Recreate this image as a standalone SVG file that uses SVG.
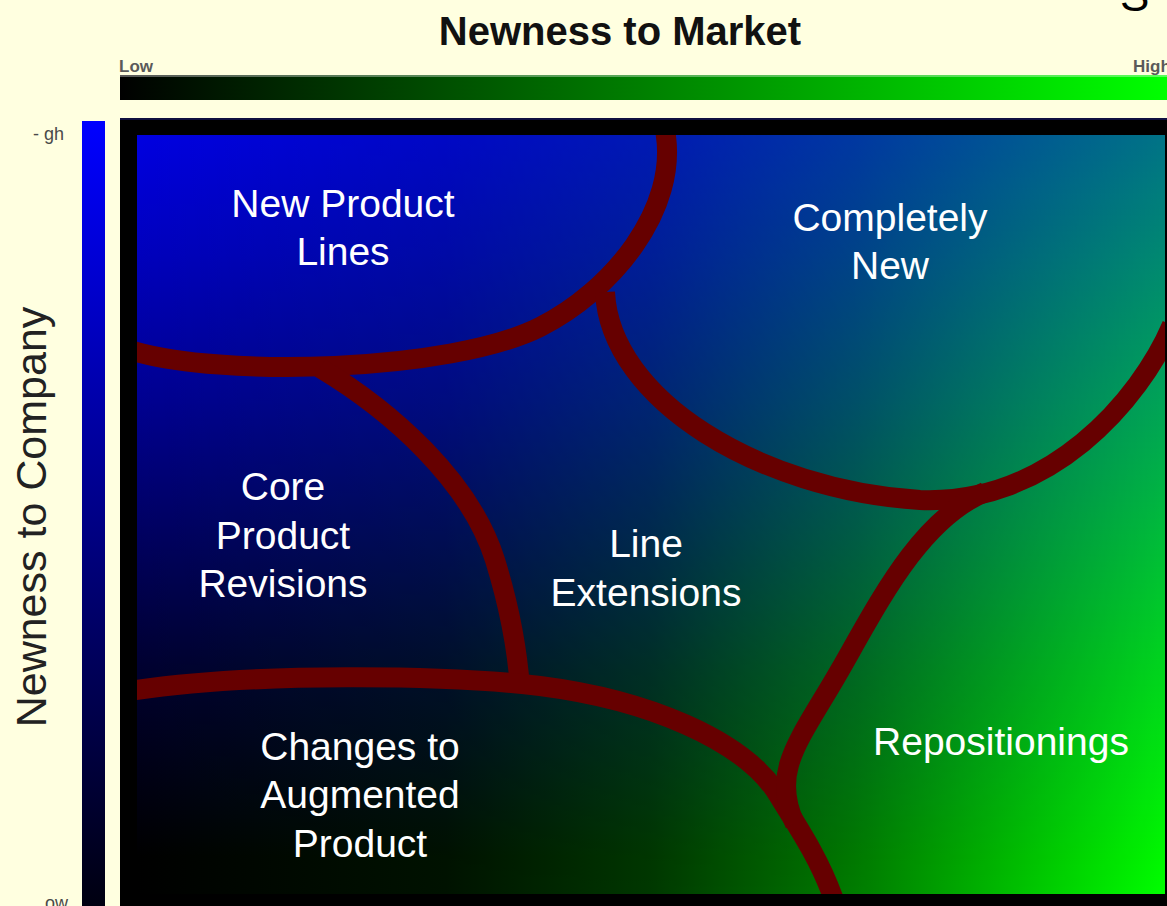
<svg xmlns="http://www.w3.org/2000/svg" width="1167" height="906" viewBox="0 0 1167 906">
<style>
.lbl{font-family:"Liberation Sans",Arial,sans-serif;font-size:39px;fill:#ffffff;text-anchor:middle}
.axis{font-family:"Liberation Sans",Arial,sans-serif;fill:#5a5a5a;font-weight:bold}
.axisn{font-family:"Liberation Sans",Arial,sans-serif;fill:#4a4a4a}
.curve{fill:none;stroke:#660000;stroke-width:20;stroke-linecap:butt;stroke-linejoin:round}
</style>
<defs>
<linearGradient id="topbar" x1="0" y1="0" x2="1" y2="0">
<stop offset="0" stop-color="#000000"/><stop offset="1" stop-color="#00ff00"/>
</linearGradient>
<linearGradient id="leftbar" x1="0" y1="0" x2="0" y2="1">
<stop offset="0" stop-color="#0000ff"/><stop offset="1" stop-color="#000010"/>
</linearGradient>
<linearGradient id="blueV" x1="0" y1="0" x2="0" y2="1">
<stop offset="0" stop-color="#0000e0"/><stop offset="0.35" stop-color="#000090"/><stop offset="0.7" stop-color="#000030"/><stop offset="0.95" stop-color="#000000"/>
</linearGradient>
<linearGradient id="darkH" x1="0" y1="0" x2="1" y2="0">
<stop offset="0" stop-color="#000000" stop-opacity="0"/><stop offset="1" stop-color="#000000" stop-opacity="0.4"/>
</linearGradient>
<linearGradient id="greenH" x1="0" y1="0" x2="1" y2="0">
<stop offset="0" stop-color="#000000"/><stop offset="0.3" stop-color="#001200"/><stop offset="0.5" stop-color="#003800"/><stop offset="0.7" stop-color="#007c00"/><stop offset="1" stop-color="#00ff00"/>
</linearGradient>
<linearGradient id="vmaskG" x1="0" y1="0" x2="0" y2="1">
<stop offset="0" stop-color="#ffffff" stop-opacity="0.45"/><stop offset="1" stop-color="#ffffff" stop-opacity="1"/>
</linearGradient>
<mask id="vmask" maskUnits="userSpaceOnUse" x="137" y="135" width="1028" height="759">
<rect x="137" y="135" width="1028" height="759" fill="url(#vmaskG)"/>
</mask>
<clipPath id="inner"><rect x="137" y="135" width="1028" height="759"/></clipPath>
</defs>

<rect width="1167" height="906" fill="#ffffe0"/>

<g id="title">
<text x="620" y="45" text-anchor="middle" font-family="'Liberation Sans',Arial,sans-serif" font-weight="bold" font-size="40" fill="#111111">Newness to Market</text>
<text x="1120" y="11" font-family="'Liberation Sans',Arial,sans-serif" font-size="44" fill="#000000">S</text>
</g>

<g id="market-axis">
<rect x="120" y="75" width="1047" height="25" fill="url(#topbar)"/>
<rect x="120" y="75" width="1047" height="2" fill="#ffffff" opacity="0.35"/>
<text class="axis" x="119" y="72" font-size="17">Low</text>
<text class="axis" x="1133" y="72" font-size="17">High</text>
</g>

<g id="company-axis">
<rect x="82" y="121" width="23" height="785" fill="url(#leftbar)"/>
<text class="axisn" x="33" y="140" font-size="18">- gh</text>
<text class="axisn" x="45" y="909" font-size="18">ow</text>
<text x="35" y="517" transform="rotate(-90 35 517)" text-anchor="middle" dominant-baseline="middle" font-family="'Liberation Sans',Arial,sans-serif" font-size="43" fill="#222222">Newness to Company</text>
</g>

<g id="matrix">
<rect x="120" y="118" width="1047" height="788" fill="#000000"/>
<rect x="120" y="118" width="1047" height="2" fill="#101040"/>
<g clip-path="url(#inner)">
<rect x="137" y="135" width="1028" height="759" fill="url(#blueV)"/>
<rect x="137" y="135" width="1028" height="759" fill="url(#darkH)"/>
<rect x="137" y="135" width="1028" height="759" fill="url(#greenH)" mask="url(#vmask)" style="mix-blend-mode:screen"/>
</g>
</g>

<g id="connectors" clip-path="url(#inner)">
<path class="curve" d="M 130 350 C 220 378, 450 372, 540 327 C 610 292, 680 210, 665 130"/>
<path class="curve" d="M 605 292 C 610 400, 760 490, 920 500 C 1050 505, 1140 400, 1172 325"/>
<path class="curve" d="M 320 368 C 390 410, 470 480, 495 560 C 512 615, 518 660, 520 688"/>
<path class="curve" d="M 130 691 C 250 672, 450 675, 540 686 C 650 700, 740 740, 775 790 C 800 830, 820 860, 834 900"/>
<path class="curve" stroke-linecap="round" d="M 985 492 C 920 520, 880 600, 840 670 C 800 740, 770 770, 795 824"/>
</g>

<g id="node-new-product-lines"><text class="lbl" x="343" y="217">New Product</text><text class="lbl" x="343" y="265">Lines</text></g>
<g id="node-completely-new"><text class="lbl" x="890" y="231">Completely</text><text class="lbl" x="890" y="279">New</text></g>
<g id="node-core-product-revisions"><text class="lbl" x="283" y="500">Core</text><text class="lbl" x="283" y="549">Product</text><text class="lbl" x="283" y="597">Revisions</text></g>
<g id="node-line-extensions"><text class="lbl" x="646" y="557">Line</text><text class="lbl" x="646" y="606">Extensions</text></g>
<g id="node-changes-augmented"><text class="lbl" x="360" y="760">Changes to</text><text class="lbl" x="360" y="808">Augmented</text><text class="lbl" x="360" y="857">Product</text></g>
<g id="node-repositionings"><text class="lbl" x="1001" y="755">Repositionings</text></g>
</svg>
